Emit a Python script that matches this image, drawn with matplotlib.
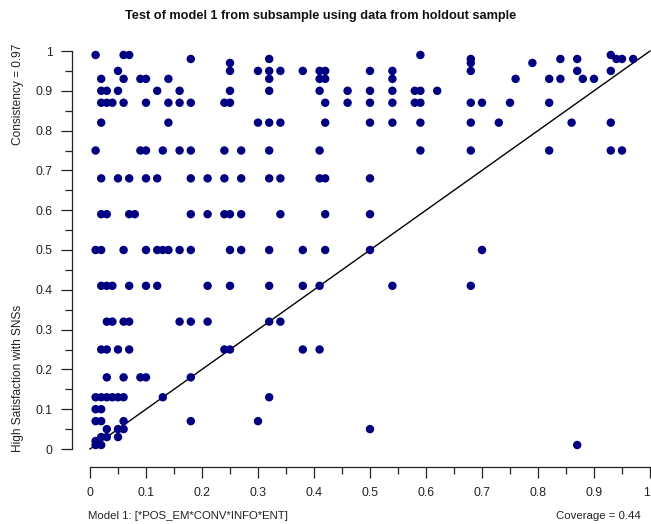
import matplotlib
matplotlib.use("Agg")
import matplotlib.pyplot as plt
from matplotlib.ticker import MultipleLocator, FixedLocator

plt.rcParams['font.family'] = ['Liberation Sans', 'DejaVu Sans']

title = "Test of model 1 from subsample using data from holdout sample"
x_title = "Model 1: [*POS_EM*CONV*INFO*ENT]"
coverage_text = "Coverage = 0.44"
y_title = "High Satisfaction with SNSs"
consistency_text = "Consistency = 0.97"

ticks = [0, 0.1, 0.2, 0.3, 0.4, 0.5, 0.6, 0.7, 0.8, 0.9, 1]
tick_labels = ["0", "0.1", "0.2", "0.3", "0.4", "0.5", "0.6", "0.7", "0.8", "0.9", "1"]

# membership in the configuration (x) and in the outcome (y), one entry per case
condition = (
    [0.01, 0.06, 0.07, 0.59, 0.93]
    + [0.18, 0.32, 0.68, 0.84, 0.87, 0.94, 0.95, 0.97]
    + [0.25, 0.68, 0.79]
    + [0.05, 0.25, 0.30, 0.32, 0.34, 0.38, 0.41, 0.42, 0.50, 0.54, 0.68, 0.87, 0.93]
    + [0.02, 0.06, 0.09, 0.10, 0.14, 0.32, 0.41, 0.42, 0.54, 0.76, 0.82, 0.84, 0.88, 0.90]
    + [0.02, 0.03, 0.05, 0.12, 0.16, 0.25, 0.32, 0.41, 0.46, 0.50, 0.54, 0.58, 0.59, 0.62]
    + [0.02, 0.03, 0.04, 0.06, 0.10, 0.14, 0.16, 0.18, 0.24, 0.25, 0.42, 0.46, 0.50, 0.54,
       0.58, 0.59, 0.68, 0.70, 0.75, 0.82]
    + [0.02, 0.14, 0.30, 0.32, 0.34, 0.42, 0.50, 0.54, 0.59, 0.68, 0.73, 0.86, 0.93]
    + [0.01, 0.09, 0.10, 0.13, 0.16, 0.18, 0.24, 0.27, 0.32, 0.41, 0.59, 0.68, 0.82, 0.93, 0.95]
    + [0.02, 0.05, 0.07, 0.10, 0.12, 0.18, 0.21, 0.24, 0.27, 0.32, 0.34, 0.41, 0.42, 0.50]
    + [0.02, 0.03, 0.07, 0.08, 0.18, 0.21, 0.24, 0.25, 0.27, 0.34, 0.42, 0.50]
    + [0.01, 0.02, 0.06, 0.10, 0.12, 0.13, 0.14, 0.16, 0.18, 0.25, 0.27, 0.32, 0.38, 0.42, 0.50, 0.70]
    + [0.02, 0.03, 0.04, 0.07, 0.10, 0.12, 0.21, 0.25, 0.32, 0.38, 0.41, 0.54, 0.68]
    + [0.03, 0.04, 0.06, 0.07, 0.16, 0.18, 0.21, 0.32, 0.34]
    + [0.02, 0.03, 0.05, 0.07, 0.24, 0.25, 0.38, 0.41]
    + [0.03, 0.06, 0.09, 0.10, 0.18]
    + [0.01, 0.02, 0.03, 0.04, 0.05, 0.06, 0.13, 0.32]
    + [0.01, 0.02]
    + [0.01, 0.02, 0.06, 0.18, 0.30]
    + [0.03, 0.05, 0.06, 0.50]
    + [0.02, 0.03, 0.05]
    + [0.01]
    + [0.01, 0.02, 0.87]
)
outcome = (
    [0.99] * 5 + [0.98] * 8 + [0.97] * 3 + [0.95] * 13 + [0.93] * 14 + [0.90] * 14
    + [0.87] * 20 + [0.82] * 13 + [0.75] * 15 + [0.68] * 14 + [0.59] * 12
    + [0.50] * 16 + [0.41] * 13 + [0.32] * 9 + [0.25] * 8 + [0.18] * 5 + [0.13] * 8
    + [0.10] * 2 + [0.07] * 5 + [0.05] * 4 + [0.03] * 3 + [0.02] * 1 + [0.01] * 3
)

W, H = 651, 524
fig = plt.figure(figsize=(W / 100, H / 100), dpi=100)
ax = fig.add_axes([90 / W, 75 / H, 560 / W, 398 / H])
ax.set_xlim(0, 1)
ax.set_ylim(0, 1)

ax.scatter(condition, outcome, s=37, color='#000080', edgecolors='none',
           clip_on=False, zorder=3)
ax.plot([0, 1], [0, 1], color='black', lw=1.0, clip_on=False, zorder=2)

for side in ['top', 'right']:
    ax.spines[side].set_visible(False)
for side in ['left', 'bottom']:
    ax.spines[side].set_position(('outward', 13))
    ax.spines[side].set_bounds(0, 1)
    ax.spines[side].set_linewidth(0.9)
    ax.spines[side].set_color('#222222')

ax.xaxis.set_major_locator(FixedLocator(ticks))
ax.yaxis.set_major_locator(FixedLocator(ticks))
ax.set_xticklabels(tick_labels)
ax.set_yticklabels(tick_labels)
ax.xaxis.set_minor_locator(MultipleLocator(0.05))
ax.yaxis.set_minor_locator(MultipleLocator(0.05))
ax.tick_params(which='major', direction='out', length=8, width=0.9, color='#222222',
               labelsize=8.8, pad=6, labelcolor='#222222')
ax.tick_params(which='minor', direction='out', length=5, width=0.9, color='#222222')
for lbl in ax.get_xticklabels():
    if lbl.get_text() == "1":
        lbl.set_horizontalalignment('right')

fig.text(321 / W, 1 - 16 / H, title, ha='center', va='center', fontsize=9.2,
         fontweight='bold', color='#111111')
fig.text(88 / W, 1 - 516 / H, x_title, ha='left', va='center', fontsize=8.2, color='#222222')
fig.text(641 / W, 1 - 516 / H, coverage_text, ha='right', va='center', fontsize=8.2,
         color='#222222')
fig.text(18 / W, 1 - 452 / H, y_title, ha='center', va='bottom', rotation=90,
         fontsize=8.6, color='#222222')
fig.text(18 / W, 1 - 44 / H, consistency_text, ha='center', va='top', rotation=90,
         fontsize=8.6, color='#222222')

fig.savefig('out.png', dpi=100)
